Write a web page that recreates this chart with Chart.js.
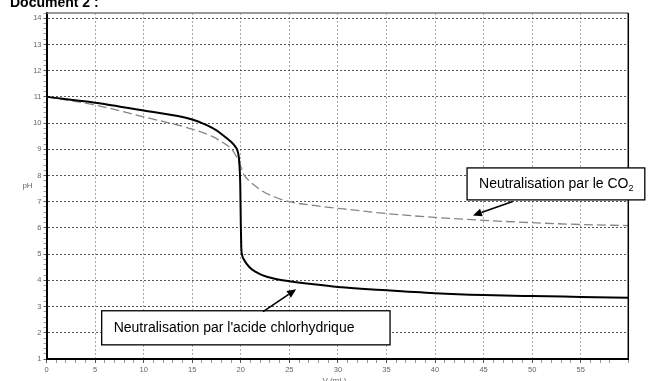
<!DOCTYPE html>
<html>
<head>
<meta charset="utf-8">
<script src="https://cdn.jsdelivr.net/npm/chart.js@4.4.1/dist/chart.umd.min.js"></script>
<style>
body { margin: 0; background: #fff; }
</style>
</head>
<body>
<canvas id="phChart" width="648" height="381"></canvas>
<script>
// courbe acide chlorhydrique (trait plein)
const volHcl = [0, 5, 10, 15, 16.5, 17.5, 18.3, 18.9, 19.4, 19.7, 19.85, 19.95, 20.0, 20.05, 20.15, 20.35, 20.9, 21.5, 22.2, 23.5, 25, 27.5, 30, 35, 40, 45, 50, 55, 59.9];
const phHcl  = [11.0, 10.78, 10.48, 10.14, 9.92, 9.72, 9.5, 9.32, 9.12, 8.9, 8.5, 7.6, 6.3, 5.3, 4.95, 4.78, 4.5, 4.33, 4.2, 4.06, 3.97, 3.85, 3.75, 3.62, 3.51, 3.44, 3.4, 3.37, 3.34];

// courbe CO2 (pointillés)
const volCo2 = [0, 5, 10, 15, 17, 18.2, 19.2, 19.9, 20.3, 20.8, 21.5, 22.2, 23.5, 25, 27.5, 30, 35, 40, 45, 50, 55, 59.9];
const phCo2  = [11.0, 10.69, 10.24, 9.77, 9.5, 9.25, 8.94, 8.45, 8.05, 7.82, 7.6, 7.41, 7.18, 7.0, 6.86, 6.75, 6.55, 6.4, 6.29, 6.2, 6.13, 6.09];

const xLabels = [0, 5, 10, 15, 20, 25, 30, 35, 40, 45, 50, 55];
const yLabels = [1, 2, 3, 4, 5, 6, 7, 8, 9, 10, 11, 12, 13, 14];

const labelCo2 = 'Neutralisation par le CO';
const labelHcl = "Neutralisation par l'acide chlorhydrique";

// encadrés en unités du graphe : [V gauche, V droite, pH haut, pH bas]
const notes = [
    { text: labelCo2, sub: '2', box: [43.3, 61.6, 8.29, 7.07], from: [48.0, 7.01], to: [43.9, 6.47] },
    { text: labelHcl, sub: '', box: [5.68, 35.37, 2.84, 1.54], from: [22.3, 2.81], to: [25.7, 3.66] }
];

const isInt = v => Math.abs(v - Math.round(v)) < 1e-6;
const font = '"Liberation Sans", Arial, sans-serif';

function arrow(ctx, x1, y1, x2, y2) {
    const ang = Math.atan2(y2 - y1, x2 - x1);
    const len = 9, half = 4;
    const bx = x2 - len * Math.cos(ang), by = y2 - len * Math.sin(ang);
    ctx.beginPath();
    ctx.moveTo(x1, y1);
    ctx.lineTo(bx, by);
    ctx.stroke();
    ctx.beginPath();
    ctx.moveTo(x2, y2);
    ctx.lineTo(bx + half * Math.sin(ang), by - half * Math.cos(ang));
    ctx.lineTo(bx - half * Math.sin(ang), by + half * Math.cos(ang));
    ctx.closePath();
    ctx.fill();
}

const extras = {
    id: 'extras',
    afterDraw(chart) {
        const { ctx, chartArea: a, scales: { x, y } } = chart;
        ctx.save();
        // cadre haut et droit
        ctx.lineWidth = 1.5;
        ctx.strokeStyle = '#777';
        ctx.beginPath(); ctx.moveTo(a.left, a.top); ctx.lineTo(a.right, a.top); ctx.stroke();
        ctx.strokeStyle = '#000';
        ctx.beginPath(); ctx.moveTo(a.right, a.top); ctx.lineTo(a.right, a.bottom); ctx.stroke();

        // titres
        ctx.fillStyle = '#000';
        ctx.font = 'bold 14px ' + font;
        ctx.textAlign = 'left';
        ctx.textBaseline = 'alphabetic';
        ctx.fillText('Document 2 :', 10, 7);

        ctx.fillStyle = '#666';
        ctx.font = '8px ' + font;
        ctx.textAlign = 'center';
        ctx.textBaseline = 'middle';
        ctx.fillText('pH', a.left - 19, (a.top + a.bottom) / 2);
        ctx.textBaseline = 'alphabetic';
        ctx.fillText('V (mL)', (a.left + a.right) / 2 - 3, 383);

        // encadrés et flèches
        notes.forEach(n => {
            const l = x.getPixelForValue(n.box[0]), r = x.getPixelForValue(n.box[1]);
            const t = y.getPixelForValue(n.box[2]), b = y.getPixelForValue(n.box[3]);
            ctx.fillStyle = '#fff';
            ctx.fillRect(l, t, r - l, b - t);
            ctx.lineWidth = 1.3;
            ctx.strokeStyle = '#000';
            ctx.strokeRect(l, t, r - l, b - t);
            ctx.fillStyle = '#000';
            ctx.font = '14px ' + font;
            ctx.textAlign = 'left';
            ctx.textBaseline = 'middle';
            ctx.fillText(n.text, l + 12, (t + b) / 2);
            if (n.sub) {
                const w = ctx.measureText(n.text).width;
                ctx.font = '9px ' + font;
                ctx.fillText(n.sub, l + 12 + w, (t + b) / 2 + 5);
            }
            ctx.lineWidth = 1.6;
            arrow(ctx, x.getPixelForValue(n.from[0]), y.getPixelForValue(n.from[1]),
                       x.getPixelForValue(n.to[0]), y.getPixelForValue(n.to[1]));
        });
        ctx.restore();
    }
};

const ctx = document.getElementById('phChart').getContext('2d');
const phChart = new Chart(ctx, {
    type: 'scatter',
    data: {
        datasets: [{
            label: 'HCl',
            data: volHcl.map((v, i) => ({ x: v, y: phHcl[i] })),
            showLine: true,
            borderColor: '#000',
            borderWidth: 2,
            pointRadius: 0,
            cubicInterpolationMode: 'monotone'
        }, {
            label: 'CO2',
            data: volCo2.map((v, i) => ({ x: v, y: phCo2[i] })),
            showLine: true,
            borderColor: '#858585',
            borderWidth: 1.3,
            borderDash: [9, 4],
            pointRadius: 0,
            cubicInterpolationMode: 'monotone'
        }]
    },
    options: {
        responsive: false,
        animation: false,
        layout: { padding: { top: 13, right: 19.7, left: 0, bottom: 0 } },
        plugins: { legend: { display: false }, tooltip: { enabled: false } },
        scales: {
            x: {
                type: 'linear',
                min: 0,
                max: 59.9,
                afterFit: s => { s.height = 22; },
                ticks: {
                    stepSize: 1,
                    autoSkip: false,
                    maxRotation: 0,
                    padding: 2,
                    color: '#666',
                    font: { family: font, size: 7.5 },
                    callback: v => xLabels.includes(v) ? String(v) : ''
                },
                grid: {
                    color: c => (c.tick && xLabels.includes(c.tick.value) ? '#aaa' : 'rgba(0,0,0,0)'),
                    lineWidth: 1,
                    tickLength: 4,
                    tickColor: c => (c.tick && isInt(c.tick.value / 5) ? '#555' : '#999')
                },
                border: { color: '#000', width: 2, dash: [2, 2] }
            },
            y: {
                min: 1,
                max: 14.2,
                afterFit: s => { s.width = 46.5; },
                ticks: {
                    stepSize: 0.2,
                    autoSkip: false,
                    padding: 2,
                    color: '#666',
                    font: { family: font, size: 7.5 },
                    callback: v => (isInt(v) && yLabels.includes(Math.round(v)) ? String(Math.round(v)) : '')
                },
                grid: {
                    color: c => (c.tick && isInt(c.tick.value) && c.tick.value > 1 ? '#555' : 'rgba(0,0,0,0)'),
                    lineWidth: 1,
                    tickLength: 3,
                    tickColor: c => (c.tick && isInt(c.tick.value) ? '#555' : '#999')
                },
                border: { color: '#000', width: 2, dash: [2, 2] }
            }
        }
    },
    plugins: [extras]
});
</script>
</body>
</html>
